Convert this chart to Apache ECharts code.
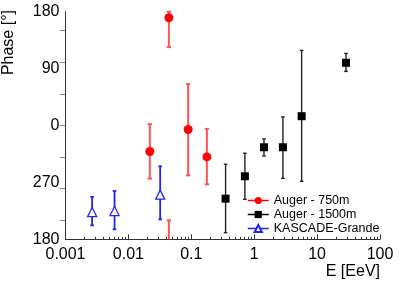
<!DOCTYPE html>
<html>
<head>
<meta charset="utf-8">
<script src="https://cdn.jsdelivr.net/npm/echarts@6/dist/echarts.min.js"></script>
<style>html,body{margin:0;padding:0;background:#fff;}#c{width:409px;height:289px;}</style>
</head>
<body>
<div id="c"></div>
<script>
// ---- data ----
const xE750    = [0.0219, 0.0440, 0.0891, 0.177];
const phase750 = [-41.2, 170.5, -6.3, -49.7];
const lo750    = [-84, 124, -78.8, -93];
const hi750    = [2, 210, 65.4, -5.4];

const xE1500    = [0.351, 0.711, 1.43, 2.86, 5.68, 28.8];
const phase1500 = [-115.7, -80.3, -34.4, -34.4, 14.7, 99.2];
const lo1500    = [-169.5, -116.8, -48.2, -83.5, -88.3, 85.6];
const hi1500    = [-61.3, -43.9, -21.2, 13.6, 118.8, 114];

const xEKG    = [0.00265, 0.00602, 0.032];
const phaseKG = [-136.9, -135.3, -109.3];
const loKG    = [-158, -164.3, -148.5];
const hiKG    = [-113, -103.6, -64.5];

const seriesNames = ['Auger - 750m', 'Auger - 1500m', 'KASCADE-Grande'];
const xTickLabels = [0.001, 0.01, 0.1, 1, 10, 100];
const yLabelValues = [-180, -90, 0, 90, 180];
const yTickValues = [-150, -100, -50, 0, 50, 100, 150];

// minor decade ticks
const xMinorTicks = [];
for (let d = 0.001; d < 99; d *= 10) {
  for (let m = 2; m <= 9; m++) xMinorTicks.push(+(d * m).toPrecision(3));
}

const FONT = 'Liberation Sans';
const chart = echarts.init(document.getElementById('c'), null, {renderer: 'canvas'});

function zip(xs, ys, los, his) {
  return xs.map((x, i) => [x, ys[i], los[i], his[i]]);
}
function pts(xs, ys) { return xs.map((x, i) => [x, ys[i]]); }

function errBar(color, width, cap) {
  return function (params, api) {
    const x = api.value(0), lo = api.value(2), hi = api.value(3);
    const children = [];
    function seg(a, b, capA, capB) {
      const p1 = api.coord([x, a]), p2 = api.coord([x, b]);
      children.push({type: 'line', shape: {x1: p1[0], y1: p1[1], x2: p2[0], y2: p2[1]},
        style: {stroke: color, lineWidth: width}});
      if (capA) children.push({type: 'line', shape: {x1: p1[0] - cap, y1: p1[1], x2: p1[0] + cap, y2: p1[1]},
        style: {stroke: color, lineWidth: width}});
      if (capB) children.push({type: 'line', shape: {x1: p2[0] - cap, y1: p2[1], x2: p2[0] + cap, y2: p2[1]},
        style: {stroke: color, lineWidth: width}});
    }
    if (hi > 180) {
      seg(lo, 180, true, true);
      seg(-180, hi - 360, false, true);
    } else {
      seg(lo, hi, true, true);
    }
    return {type: 'group', children: children};
  };
}

const option = {
  animation: false,
  backgroundColor: '#fff',
  grid: {left: 65.5, right: 29, top: 11.7, bottom: 49.7},
  xAxis: [{
    type: 'log', min: 0.001, max: 100, logBase: 10,
    axisLine: {show: true, onZero: false, lineStyle: {color: '#333', width: 1}},
    axisTick: {show: true, inside: true, length: 5, customValues: xTickLabels, lineStyle: {color: '#333'}},
    axisLabel: {show: true, customValues: xTickLabels, margin: 7, color: '#000', fontFamily: FONT, fontSize: 16,
      formatter: v => String(+v.toPrecision(3))},
    splitLine: {show: false}
  }, {
    type: 'log', min: 0.001, max: 100, logBase: 10, position: 'bottom',
    axisLine: {show: false, onZero: false},
    axisTick: {show: true, inside: true, length: 2.5, customValues: xMinorTicks, lineStyle: {color: '#333'}},
    axisLabel: {show: false},
    splitLine: {show: false}
  }],
  yAxis: {
    type: 'value', min: -180, max: 180,
    axisLine: {show: true, onZero: false, lineStyle: {color: '#333', width: 1}},
    axisTick: {show: true, inside: false, length: 6, customValues: yTickValues, lineStyle: {color: '#888'}},
    axisLabel: {show: true, customValues: yLabelValues, margin: 6, color: '#000', fontFamily: FONT, fontSize: 16,
      formatter: v => String(v < 0 ? v + 360 : v)},
    splitLine: {show: false}
  },
  legend: {
    left: 247, top: 193.5, orient: 'vertical', padding: 0,
    itemWidth: 21, itemHeight: 9, itemGap: 0,
    textStyle: {fontFamily: FONT, fontSize: 12.5, color: '#000', lineHeight: 14},
    data: seriesNames,
    lineStyle: {width: 1.5}
  },
  graphic: [
    {type: 'text', x: 9, y: 10, rotation: Math.PI / 2,
      style: {text: 'Phase [°]', fontFamily: FONT, fontSize: 16, fill: '#000', align: 'right', verticalAlign: 'middle'}},
    {type: 'text', x: 380, y: 272,
      style: {text: 'E [EeV]', fontFamily: FONT, fontSize: 16, fill: '#000', align: 'right', verticalAlign: 'middle'}}
  ],
  series: [
    {type: 'custom', name: 'err750', renderItem: errBar('#ff5555', 2, 2.2), data: zip(xE750, phase750, lo750, hi750),
      encode: {x: 0, y: 1}, z: 2, silent: true},
    {type: 'custom', name: 'err1500', renderItem: errBar('#222', 1.4, 1.8), data: zip(xE1500, phase1500, lo1500, hi1500),
      encode: {x: 0, y: 1}, z: 2, silent: true},
    {type: 'custom', name: 'errKG', renderItem: errBar('#2222ff', 1.8, 1.8), data: zip(xEKG, phaseKG, loKG, hiKG),
      encode: {x: 0, y: 1}, z: 2, silent: true},
    {type: 'line', name: seriesNames[0], data: pts(xE750, phase750), symbol: 'circle', symbolSize: 9,
      showSymbol: true, itemStyle: {color: '#ff0000'}, lineStyle: {width: 0, color: '#ff0000'}, z: 5},
    {type: 'line', name: seriesNames[1], data: pts(xE1500, phase1500), symbol: 'rect', symbolSize: 8,
      showSymbol: true, itemStyle: {color: '#000'}, lineStyle: {width: 0, color: '#000'}, z: 5},
    {type: 'line', name: seriesNames[2], data: pts(xEKG, phaseKG), symbol: 'triangle', symbolSize: 9,
      showSymbol: true, itemStyle: {color: '#fff', borderColor: '#2222ff', borderWidth: 1.3},
      lineStyle: {width: 0, color: '#2222ff'}, z: 5}
  ]
};
chart.setOption(option);
</script>
</body>
</html>
